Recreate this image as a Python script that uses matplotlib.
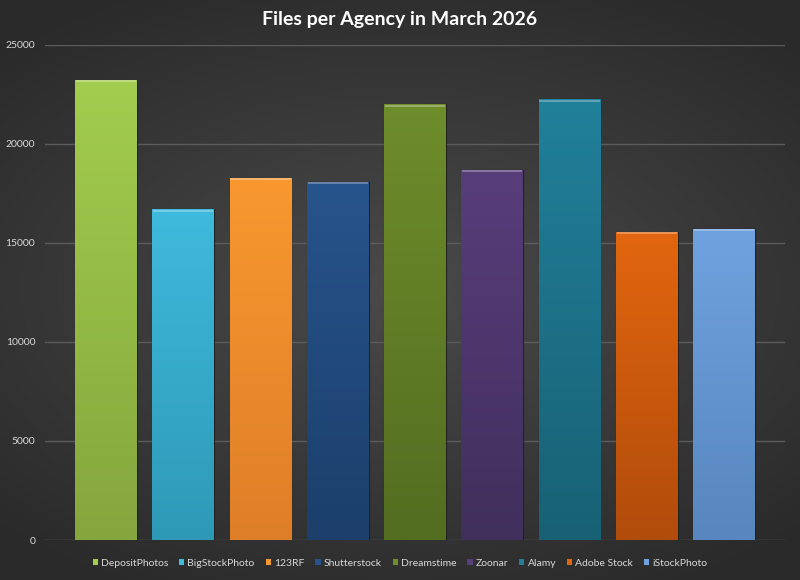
"""Files per agency in March 2026 - bar chart on a dark Excel-style background."""

import matplotlib
matplotlib.use("Agg")
import matplotlib.pyplot as plt
import numpy as np
from matplotlib.colors import LinearSegmentedColormap

agencies = ["DepositPhotos", "BigStockPhoto", "123RF", "Shutterstock", "Dreamstime",
            "Zoonar", "Alamy", "Adobe Stock", "iStockPhoto"]
files = [23250, 16700, 18300, 18100, 22000, 18700, 22250, 15550, 15700]

top_colors = ["#a2cd4e", "#3fbadc", "#f8982f", "#27548c", "#6e8d2b",
              "#583d7b", "#21809a", "#e2660f", "#6fa2df"]
bottom_colors = ["#85a63d", "#2e99b7", "#df7e28", "#1c3f6b", "#536d21",
                 "#412f5c", "#186174", "#b14c0b", "#5886be"]

y_ticks = [0, 5000, 10000, 15000, 20000, 25000]

plt.rcParams["font.family"] = ["Lato", "DejaVu Sans"]

fig = plt.figure(figsize=(8, 5.8), dpi=100)

# radial background gradient
bg = fig.add_axes([0, 0, 1, 1], zorder=-10)
yy, xx = np.mgrid[-1:1:300j, -1:1:400j]
r = np.sqrt((xx * 0.9) ** 2 + (yy * 1.1) ** 2)
bg_cmap = LinearSegmentedColormap.from_list("bg", ["#4a4a4a", "#3a3a3a", "#2a2a2a"])
bg.imshow(r, cmap=bg_cmap, aspect="auto", extent=[0, 1, 0, 1], vmin=0, vmax=1.3)
bg.axis("off")

ax = fig.add_axes([45 / 800, 1 - 540 / 580, 740 / 800, 495 / 580])
ax.patch.set_alpha(0)

x = np.arange(len(agencies))
bars = ax.bar(x, files, width=0.8, color=top_colors, edgecolor="#222222",
              linewidth=0.8, zorder=3)

# vertical gradient inside each bar
for bar, c_top, c_bot in zip(bars, top_colors, bottom_colors):
    cmap = LinearSegmentedColormap.from_list("g", [c_bot, c_top])
    x0, y0 = bar.get_x(), bar.get_y()
    w, h = bar.get_width(), bar.get_height()
    grad = np.linspace(0, 1, 256).reshape(-1, 1)
    im = ax.imshow(grad, cmap=cmap, aspect="auto", origin="lower",
                   extent=[x0, x0 + w, y0, y0 + h], zorder=3.5)
    im.set_clip_path(bar)
    # light cap at the top
    ax.plot([x0 + 0.01, x0 + w - 0.01], [y0 + h - 60, y0 + h - 60],
            color="white", alpha=0.35, lw=1.2, zorder=4, solid_capstyle="butt")

ax.set_xlim(-0.79, len(agencies) - 1 + 0.79)
ax.set_ylim(0, 25000)
ax.set_yticks(y_ticks)
ax.set_yticklabels([str(t) for t in y_ticks])
ax.set_xticks([])
ax.tick_params(axis="y", length=0, pad=7, labelsize=7.5, labelcolor="#d9d9d9")
ax.yaxis.grid(True, color="#5c5c5c", linewidth=1)
ax.set_axisbelow(True)
for spine in ax.spines.values():
    spine.set_visible(False)

fig.text(0.5, 1 - 20 / 580, "Files per Agency in March 2026", ha="center", va="center",
         color="white", fontsize=14, fontweight="bold")

handles = [plt.Rectangle((0, 0), 1, 1, facecolor=c, edgecolor="none") for c in top_colors]
leg = fig.legend(handles, agencies, loc="center", bbox_to_anchor=(0.5, 1 - 563 / 580),
                 ncol=len(agencies), frameon=False, fontsize=7.5, handlelength=0.5,
                 handleheight=0.5, handletextpad=0.3, columnspacing=1.05)
for t in leg.get_texts():
    t.set_color("#d9d9d9")

fig.savefig("out.png", dpi=100)
